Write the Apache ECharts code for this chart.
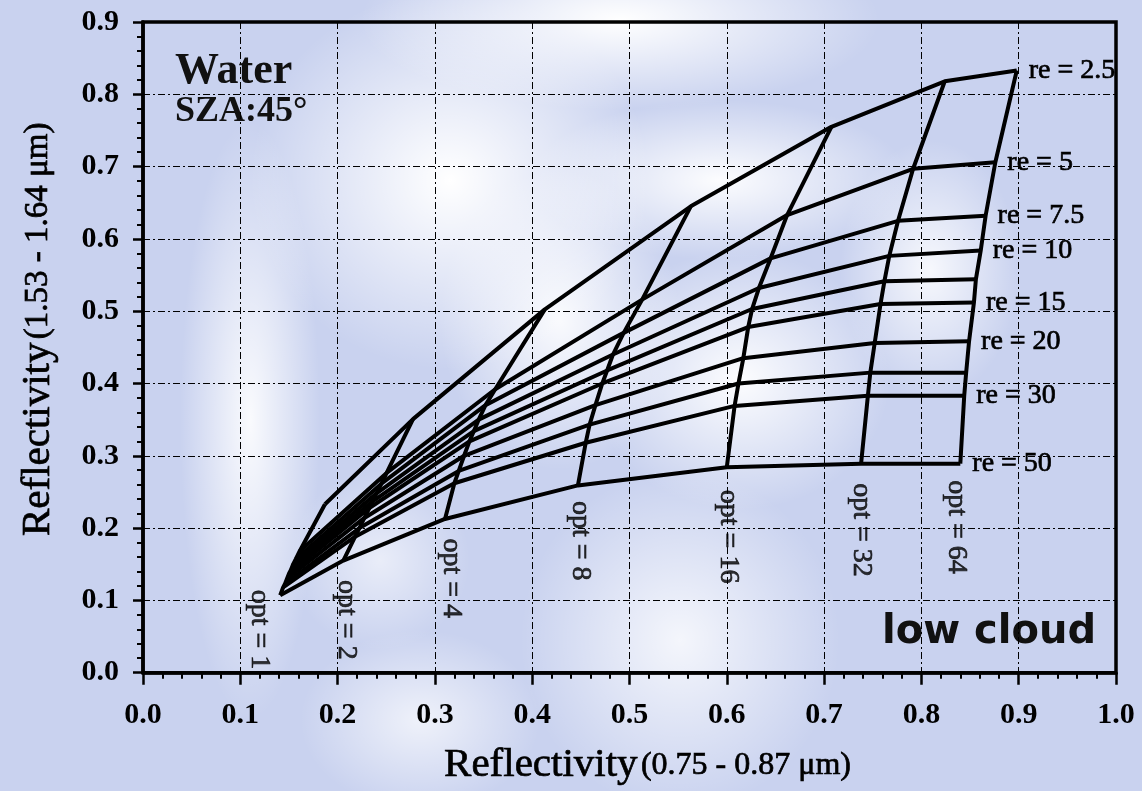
<!DOCTYPE html>
<html>
<head>
<meta charset="utf-8">
<title>Water SZA 45 - low cloud</title>
<script src="https://cdn.jsdelivr.net/npm/echarts@6/dist/echarts.min.js"></script>
<style>
  html, body { margin: 0; padding: 0; }
  body {
    width: 1142px; height: 791px; overflow: hidden;
    background:
      radial-gradient(ellipse 260px 90px at 620px 20px, rgba(255,255,255,1), rgba(255,255,255,0)),
      radial-gradient(ellipse 200px 190px at 450px 180px, rgba(255,255,255,1), rgba(255,255,255,0)),
      radial-gradient(ellipse 190px 80px at 720px 180px, rgba(255,255,255,0.95), rgba(255,255,255,0)),
      radial-gradient(ellipse 150px 130px at 740px 380px, rgba(255,255,255,0.95), rgba(255,255,255,0)),
      radial-gradient(ellipse 120px 150px at 560px 320px, rgba(255,255,255,0.9), rgba(255,255,255,0)),
      radial-gradient(ellipse 70px 300px at 250px 420px, rgba(255,255,255,0.9), rgba(255,255,255,0)),
      radial-gradient(ellipse 160px 170px at 680px 640px, rgba(255,255,255,0.8), rgba(255,255,255,0)),
      radial-gradient(ellipse 90px 130px at 930px 270px, rgba(255,255,255,0.85), rgba(255,255,255,0)),
      radial-gradient(ellipse 120px 90px at 420px 720px, rgba(255,255,255,0.7), rgba(255,255,255,0)),
      radial-gradient(ellipse 90px 90px at 380px 560px, rgba(255,255,255,0.6), rgba(255,255,255,0)),
      #c9d2ef;
  }
  #chart { width: 1142px; height: 791px; }
</style>
</head>
<body>
<div id="chart"></div>
<script>
// effective radius of each constant-re line
var reValues = [2.5, 5, 7.5, 10, 12.5, 15, 20, 25, 30, 50];
var reLabelled = [true, true, true, true, false, true, true, false, true, true];
// optical thickness of each constant-opt line
var optValues = [1, 2, 4, 8, 16, 32, 64];

// reflectivity 0.75-0.87 um : one row per opt, columns follow reValues
var visRefl = [
  [0.187, 0.161, 0.157, 0.154, 0.152, 0.150, 0.148, 0.146, 0.144, 0.141],
  [0.2775, 0.2504, 0.245, 0.240, 0.236, 0.2326, 0.2275, 0.2224, 0.218, 0.2059],
  [0.413, 0.362, 0.352, 0.345, 0.340, 0.3355, 0.330, 0.3245, 0.320, 0.3104],
  [0.563, 0.513, 0.494, 0.483, 0.477, 0.472, 0.465, 0.459, 0.455, 0.447],
  [0.7075, 0.662, 0.645, 0.633, 0.626, 0.622, 0.617, 0.612, 0.608, 0.600],
  [0.824, 0.7915, 0.776, 0.767, 0.762, 0.758, 0.752, 0.7475, 0.745, 0.738],
  [0.898, 0.876, 0.866, 0.861, 0.856, 0.854, 0.849, 0.846, 0.844, 0.840]
];
// reflectivity 1.53-1.64 um : same layout
var swirRefl = [
  [0.233, 0.168, 0.157, 0.149, 0.142, 0.137, 0.130, 0.123, 0.118, 0.107],
  [0.3507, 0.2763, 0.2614, 0.248, 0.237, 0.2277, 0.214, 0.200, 0.188, 0.155],
  [0.5025, 0.392, 0.370, 0.350, 0.334, 0.320, 0.300, 0.279, 0.262, 0.2126],
  [0.645, 0.516, 0.470, 0.440, 0.418, 0.400, 0.370, 0.343, 0.318, 0.259],
  [0.755, 0.633, 0.573, 0.532, 0.503, 0.478, 0.435, 0.400, 0.369, 0.284],
  [0.818, 0.697, 0.625, 0.5765, 0.5415, 0.510, 0.456, 0.415, 0.383, 0.289],
  [0.833, 0.706, 0.632, 0.584, 0.544, 0.512, 0.4585, 0.415, 0.383, 0.289]
];

var xTicks = [0, 0.1, 0.2, 0.3, 0.4, 0.5, 0.6, 0.7, 0.8, 0.9, 1.0];
var yTicks = [0, 0.1, 0.2, 0.3, 0.4, 0.5, 0.6, 0.7, 0.8, 0.9];

// where each "opt = n" text sits relative to its re = 50 end (px)
var optLabelShift = [[-20, -5], [4, 20], [7, 20], [3, 16], [2, 23], [1, 20], [-3, 17]];

var serif = 'Liberation Serif, Times New Roman, serif';
var lineStyle = { color: '#000', width: 4 };
// a thin outline gives the serif text the heavier look of the original
var heavy = { textBorderColor: '#000', textBorderWidth: 0.7 };

var series = [];

reValues.forEach(function (re, j) {
  series.push({
    name: 're = ' + re,
    type: 'line',
    symbol: 'none',
    lineStyle: lineStyle,
    data: optValues.map(function (o, i) { return [visRefl[i][j], swirRefl[i][j]]; }),
    endLabel: Object.assign({
      show: reLabelled[j],
      formatter: 're = ' + re,
      distance: 12,
      color: '#000',
      fontFamily: serif,
      fontSize: 28
    }, heavy)
  });
});

optValues.forEach(function (o, i) {
  series.push({
    name: 'opt = ' + o,
    type: 'line',
    symbol: 'none',
    lineStyle: lineStyle,
    data: reValues.map(function (re, j) { return [visRefl[i][j], swirRefl[i][j]]; })
  });
});

// text for the opt lines, hung below the re = 50 end of each
series.push({
  type: 'scatter',
  symbolSize: 1,
  itemStyle: { color: 'transparent' },
  z: 5,
  data: optValues.map(function (o, i) {
    var last = reValues.length - 1;
    return {
      value: [visRefl[i][last], swirRefl[i][last]],
      label: { position: optLabelShift[i], formatter: 'opt = ' + o }
    };
  }),
  label: Object.assign({
    show: true,
    rotate: -90,
    align: 'left',
    verticalAlign: 'middle',
    color: '#000',
    fontFamily: serif,
    fontSize: 28
  }, heavy)
});

var chart = echarts.init(document.getElementById('chart'));

chart.setOption({
  animation: false,
  backgroundColor: 'transparent',
  grid: {
    left: 143, right: 26, top: 22, bottom: 117,
    show: true, borderColor: '#000', borderWidth: 3.5,
    backgroundColor: 'transparent'
  },
  xAxis: {
    type: 'value',
    min: xTicks[0], max: xTicks[xTicks.length - 1], interval: 0.1,
    name: '{a|Reflectivity} {b|(0.75 - 0.87 μm)}',
    nameLocation: 'middle',
    nameGap: 72,
    nameTextStyle: {
      padding: [0, 0, 0, 36],
      rich: {
        a: Object.assign({ fontFamily: serif, fontSize: 41, color: '#000', verticalAlign: 'middle' }, heavy),
        b: Object.assign({ fontFamily: serif, fontSize: 32, color: '#000', verticalAlign: 'middle' }, heavy)
      }
    },
    axisLine: { lineStyle: { color: '#000', width: 3.5 } },
    axisTick: { length: 12, lineStyle: { color: '#000', width: 2.5 } },
    minorTick: { show: true, splitNumber: 5, length: 6, lineStyle: { color: '#000', width: 2 } },
    axisLabel: {
      margin: 28, color: '#000', fontFamily: serif, fontWeight: 'bold', fontSize: 30,
      formatter: function (v) { return v.toFixed(1); }
    },
    splitLine: { show: true, lineStyle: { color: '#000', width: 1, type: [7, 3, 2, 3] } }
  },
  yAxis: {
    type: 'value',
    min: yTicks[0], max: yTicks[yTicks.length - 1], interval: 0.1,
    name: '{a|Reflectivity} {b|(1.53 - 1.64 μm)}',
    nameLocation: 'middle',
    nameGap: 84,
    nameTextStyle: {
      padding: [0, 0, 0, 36],
      rich: {
        a: Object.assign({ fontFamily: serif, fontSize: 41, color: '#000', verticalAlign: 'middle' }, heavy),
        b: Object.assign({ fontFamily: serif, fontSize: 33, color: '#000', verticalAlign: 'middle' }, heavy)
      }
    },
    axisLine: { lineStyle: { color: '#000', width: 3.5 } },
    axisTick: { length: 10, lineStyle: { color: '#000', width: 2.5 } },
    minorTick: { show: true, splitNumber: 5, length: 6, lineStyle: { color: '#000', width: 2 } },
    axisLabel: {
      margin: 24, color: '#000', fontFamily: serif, fontWeight: 'bold', fontSize: 30,
      formatter: function (v) { return v.toFixed(1); }
    },
    splitLine: { show: true, lineStyle: { color: '#000', width: 1, type: [7, 3, 2, 3] } }
  },
  graphic: [
    {
      type: 'text', left: 175, top: 50,
      style: { text: 'Water', font: 'bold 44px ' + serif, fill: '#111' }
    },
    {
      type: 'text', left: 175, top: 94,
      style: { text: 'SZA:45°', font: 'bold 36px ' + serif, fill: '#111' }
    },
    {
      type: 'text', left: 882, top: 613,
      style: { text: 'low cloud', font: 'bold 40px DejaVu Sans, Verdana, sans-serif', fill: '#111' }
    }
  ],
  series: series
});

window.addEventListener('resize', function () { chart.resize(); });
</script>
</body>
</html>
